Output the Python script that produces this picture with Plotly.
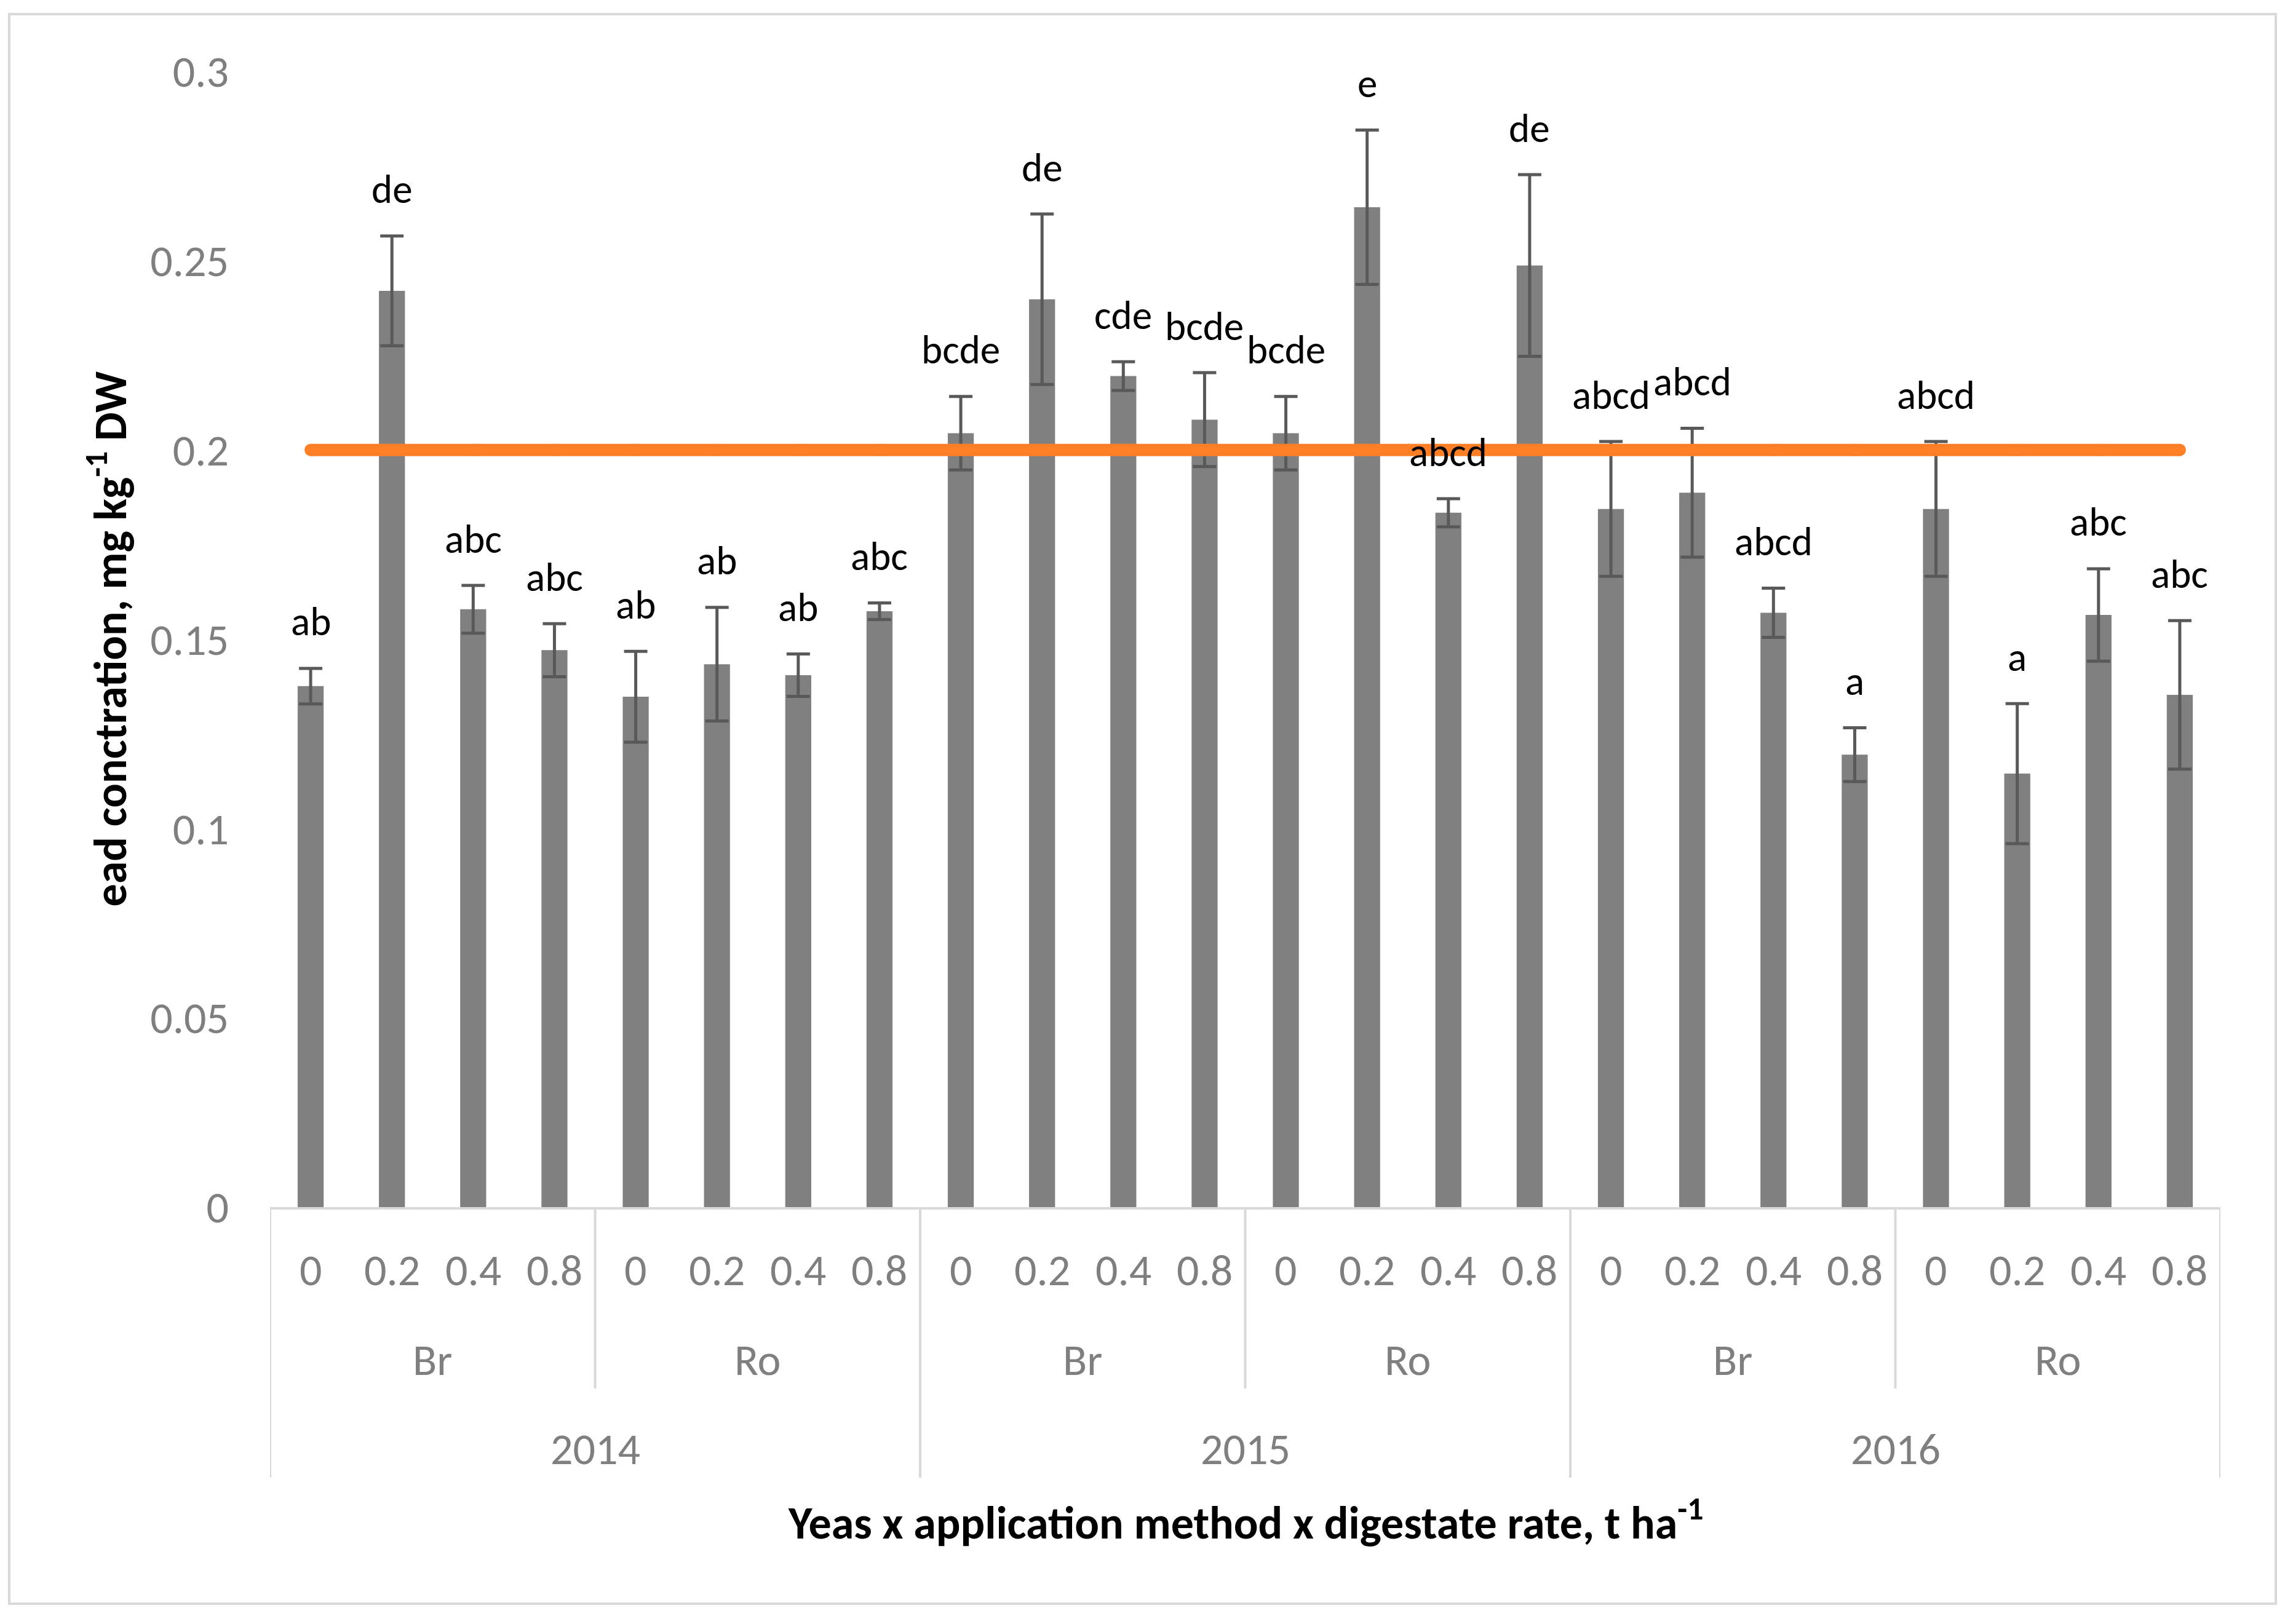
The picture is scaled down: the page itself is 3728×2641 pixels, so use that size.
import plotly.graph_objects as go

# ---------------- data ----------------
years = ["2014", "2015", "2016"]
methods = ["Br", "Ro"]
rates = ["0", "0.2", "0.4", "0.8"]

values = [0.1376, 0.2420, 0.1579, 0.1471, 0.1348, 0.1434, 0.1405, 0.1574,
          0.2044, 0.2398, 0.2195, 0.2080, 0.2044, 0.2641, 0.1834, 0.2487,
          0.1844, 0.1887, 0.1570, 0.1195, 0.1844, 0.1145, 0.1564, 0.1353]
errors = [0.0047, 0.0145, 0.0063, 0.0070, 0.0120, 0.0150, 0.0056, 0.0022,
          0.0097, 0.0225, 0.0038, 0.0124, 0.0097, 0.0204, 0.0037, 0.0240,
          0.0178, 0.0170, 0.0065, 0.0071, 0.0178, 0.0185, 0.0122, 0.0196]
letters = ["ab", "de", "abc", "abc", "ab", "ab", "ab", "abc",
           "bcde", "de", "cde", "bcde", "bcde", "e", "abcd", "de",
           "abcd", "abcd", "abcd", "a", "abcd", "a", "abc", "abc"]
limit_value = 0.2
y_tick_vals = [0, 0.05, 0.1, 0.15, 0.2, 0.25, 0.3]
y_tick_text = ["0", "0.05", "0.1", "0.15", "0.2", "0.25", "0.3"]

# ---------------- layout geometry (screen pixels) ----------------
OFF = 8                      # default page margin around the plot div
W, H = 3728 - OFF, 2641 - OFF
PL, PR, PT, PB = 439, 3610, 116, 1963
PW, PH = PR - PL, PB - PT

def py(pix):
    return (PB - pix) / PH

def px(pix):
    return (pix - PL) / PW

FONT = "Carlito, Calibri, Lato, sans-serif"
GRAY_TXT = "#7F7F7F"
SEP = "#D9D9D9"
TICK_SIZE = 72
LETTER_SIZE = 65
TITLE_SIZE = 74

n = len(values)
xs = list(range(n))

# category hierarchy
cat_rate, cat_method, cat_year = [], [], []
for y in years:
    for m in methods:
        for r in rates:
            cat_year.append(y)
            cat_method.append(m)
            cat_rate.append(r)

fig = go.Figure()
fig.add_trace(go.Bar(
    x=xs, y=values,
    marker=dict(color="#808080", line=dict(width=0)),
    error_y=dict(type="data", array=errors, visible=True,
                 color="#595959", thickness=5, width=19),
    showlegend=False, hoverinfo="skip",
))
fig.add_trace(go.Scatter(
    x=xs, y=[limit_value] * n, mode="lines+markers",
    line=dict(color="#FF7F27", width=20),
    marker=dict(color="#FF7F27", size=20, line=dict(width=0)),
    showlegend=False, hoverinfo="skip",
))

annotations = []
# significance letters
for i in range(n):
    annotations.append(dict(
        x=i, y=values[i] + errors[i], xref="x", yref="y",
        text=letters[i], showarrow=False, yanchor="middle", yshift=76,
        font=dict(family=FONT, size=LETTER_SIZE, color="#000000"),
    ))
# rate labels
for i in range(n):
    annotations.append(dict(
        x=i, y=0, xref="x", yref="paper", text=cat_rate[i], showarrow=False,
        yanchor="middle", yshift=-(2065 - PB),
        font=dict(family=FONT, size=TICK_SIZE, color=GRAY_TXT),
    ))

shapes = []
grp = len(rates)
for g in range(n // grp):
    s = g * grp
    annotations.append(dict(
        x=s + (grp - 1) / 2, y=0, xref="x", yref="paper", text=cat_method[s],
        showarrow=False, yanchor="middle", yshift=-(2211 - PB),
        font=dict(family=FONT, size=TICK_SIZE, color=GRAY_TXT),
    ))
ygrp = len(rates) * len(methods)
for g in range(n // ygrp):
    s = g * ygrp
    annotations.append(dict(
        x=s + (ygrp - 1) / 2, y=0, xref="x", yref="paper", text=cat_year[s],
        showarrow=False, yanchor="middle", yshift=-(2356 - PB),
        font=dict(family=FONT, size=TICK_SIZE, color=GRAY_TXT),
    ))

for b in range(n + 1):
    xb = b - 0.5
    if b % ygrp == 0:
        y1 = py(2403)
    elif b % grp == 0:
        y1 = py(2258)
    else:
        continue
    shapes.append(dict(type="line", xref="x", yref="paper", x0=xb, x1=xb,
                       y0=0, y1=y1, line=dict(color=SEP, width=4)))

# axis titles
annotations.append(dict(
    x=0.5, y=0, xref="paper", yref="paper",
    text="Yeas x application method x digestate rate, t ha<sup>-1</sup>",
    showarrow=False, yanchor="middle", yshift=-(2472 - PB),
    font=dict(family=FONT, size=TITLE_SIZE, color="#000000", weight="bold"),
))
annotations.append(dict(
    x=0, y=0.5, xref="paper", yref="paper",
    text="ead conctration, mg kg<sup>-1</sup> DW", textangle=-90,
    showarrow=False, xanchor="center", yanchor="middle", xshift=-(PL - 174),
    font=dict(family=FONT, size=TITLE_SIZE, color="#000000", weight="bold"),
))

# outer chart border
shapes.append(dict(type="rect", xref="paper", yref="paper",
                   x0=px(15), x1=px(3700), y0=py(2608), y1=py(23),
                   line=dict(color=SEP, width=4), layer="below"))

fig.update_layout(
    width=W, height=H,
    margin=dict(l=PL - OFF, r=W - (PR - OFF), t=PT - OFF, b=H - (PB - OFF), pad=0),
    paper_bgcolor="white", plot_bgcolor="white",
    bargap=0.68,
    xaxis=dict(range=[-0.5, n - 0.5], showticklabels=False, showgrid=False,
               zeroline=False, showline=True, linecolor=SEP, linewidth=4,
               ticks="", fixedrange=True),
    yaxis=dict(range=[0, 0.3], tickvals=y_tick_vals, ticktext=y_tick_text,
               showgrid=False, zeroline=False, showline=False, ticks="",
               ticklabelstandoff=66,
               tickfont=dict(family=FONT, size=TICK_SIZE, color=GRAY_TXT)),
    annotations=annotations, shapes=shapes,
    showlegend=False,
)

fig.write_html("out.html")
